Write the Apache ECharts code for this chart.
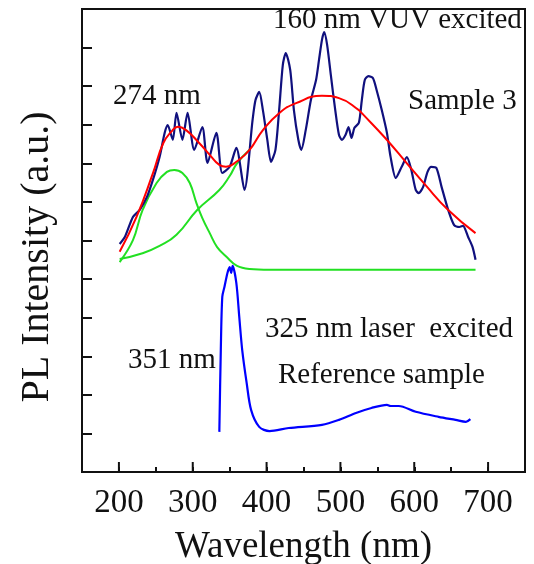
<!DOCTYPE html>
<html><head><meta charset="utf-8">
<script src="https://cdn.jsdelivr.net/npm/echarts@6/dist/echarts.min.js"></script>
<style>html,body{margin:0;padding:0;background:#fff}#c{width:534px;height:564px}</style>
</head><body><div id="c"></div>
<script>
// ---- data (wavelength nm, intensity a.u.) ----
const xTickLabels = [200, 300, 400, 500, 600, 700];
const vuvWl = [201,208,219,228,238,246,255,262,266,273,278,286,293,302,313,320,332,340,350,359,370,381,385,390,395,401,406,412,417,422,426,432,437,443,447,453,460,467,471,475,478,482,487,493,498,502,507,511,515,519,525,529,533,538,544,549,556,563,568,575,583,590,596,602,606,612,618,623,630,637,646,654,661,666,673,679,683];
const vuvI  = [5.91,6.09,6.61,6.79,7.13,7.57,8.16,8.79,8.99,8.61,9.31,8.61,9.31,8.35,8.94,8.01,8.79,7.75,7.91,8.40,7.31,9.12,9.64,9.85,9.38,8.61,8.04,8.35,9.38,10.55,10.86,10.42,9.38,8.61,8.35,8.86,9.64,10.16,10.68,11.20,11.40,11.07,10.29,9.38,8.74,8.61,8.74,8.94,8.66,8.92,9.05,9.64,10.16,10.26,10.21,9.90,9.38,8.79,8.16,7.62,7.91,8.16,7.83,7.31,7.23,7.39,7.78,7.91,7.88,7.39,6.79,6.40,6.35,6.38,6.09,5.83,5.50];
const fitWl = [201,224,246,260,271,280,291,309,323,336,345,359,377,395,417,440,475,498,525,529,561,590,615,646,683];
const fitI  = [5.71,6.62,7.74,8.52,8.82,8.95,8.86,8.52,8.22,7.96,7.91,8.04,8.35,8.86,9.30,9.56,9.75,9.69,9.38,9.30,8.65,8.00,7.44,6.79,6.19];
const g1Wl = [201,219,232,251,265,275,286,296,305,313,323,333,346,360,377,404,683];
const g1I  = [5.44,6.01,6.79,7.49,7.78,7.83,7.75,7.49,6.97,6.58,6.19,5.83,5.57,5.34,5.26,5.24,5.24];
const g2Wl = [201,232,255,278,306,336,350,360,377];
const g2I  = [5.52,5.67,5.86,6.15,6.79,7.31,7.67,8.00,8.35];
const refWl = [336,338,340,343,347,350,352,354,359,363,367,373,379,390,404,430,475,498,521,542,563,568,579,602,633,656,670,676];
const refI  = [1.04,3.16,4.54,4.80,5.16,5.31,5.16,5.34,4.90,4.02,3.16,2.31,1.61,1.17,1.06,1.14,1.22,1.35,1.53,1.66,1.74,1.71,1.71,1.56,1.43,1.35,1.30,1.37];

const pairs = (a, b) => a.map((x, i) => [x, b[i]]);
const serif = '"Liberation Serif","Times New Roman",serif';
const chart = echarts.init(document.getElementById('c'), null, {renderer: 'canvas'});
const line = (name, d, color, w, smooth, z) => ({
  name, type: 'line', data: d, showSymbol: false, smooth, z,
  lineStyle: {color, width: w}, itemStyle: {color}, silent: true, animation: false
});
chart.setOption({
  animation: false,
  grid: {left: 82, right: 9, top: 9, bottom: 92, containLabel: false, outerBoundsMode: 'none',
    show: true, borderColor: '#111', borderWidth: 2, backgroundColor: 'transparent'},
  xAxis: {
    type: 'value', min: 150, max: 750, interval: 50,
    name: 'Wavelength (nm)', nameLocation: 'middle', nameGap: 57,
    nameTextStyle: {fontFamily: serif, fontSize: 37, color: '#111'},
    axisLine: {show: true, onZero: false, lineStyle: {color: '#111', width: 2}},
    axisTick: {show: true, inside: true, length: 5, lineStyle: {color: '#111', width: 2}},
    axisLabel: {fontFamily: serif, fontSize: 33, color: '#111', margin: 15,
      formatter: v => xTickLabels.includes(v) ? String(v) : ''},
    splitLine: {show: false}
  },
  yAxis: {
    type: 'value', min: 0, max: 12, interval: 1,
    axisLine: {show: true, lineStyle: {color: '#111', width: 2}},
    axisTick: {show: true, inside: true, length: 10, lineStyle: {color: '#111', width: 2}},
    axisLabel: {show: false},
    splitLine: {show: false}
  },
  series: [
    {
      type: 'custom', data: xTickLabels.map(v => [v]), silent: true, z: 5,
      renderItem: (params, api) => {
        const p = api.coord([api.value(0), 0]);
        return {type: 'line', shape: {x1: p[0], y1: p[1], x2: p[0], y2: p[1] - 10},
          style: {stroke: '#111', lineWidth: 2}};
      }
    },
    line('g1', pairs(g1Wl, g1I), '#22e022', 2, 0.4, 2),
    line('g2', pairs(g2Wl, g2I), '#22e022', 2, 0.5, 2),
    line('vuv', pairs(vuvWl, vuvI), '#10107e', 2.2, 0.25, 3),
    line('fit', pairs(fitWl, fitI), '#ff0000', 2, 0.5, 4),
    line('ref', pairs(refWl, refI), '#0000ff', 2.2, 0.3, 3)
  ],
  graphic: [
    {type: 'text', x: 37, y: 257, rotation: Math.PI / 2,
      style: {text: 'PL Intensity (a.u.)', font: '40px ' + serif, fill: '#111', align: 'center', verticalAlign: 'middle'}},
    {type: 'text', left: 113, top: 82, style: {text: '274 nm', font: '29px ' + serif, fill: '#111'}},
    {type: 'text', left: 273, top: 6, style: {text: '160 nm VUV excited', font: '29px ' + serif, fill: '#111'}},
    {type: 'text', left: 408, top: 87, style: {text: 'Sample 3', font: '29px ' + serif, fill: '#111'}},
    {type: 'text', left: 265, top: 315, style: {text: '325 nm laser  excited', font: '29px ' + serif, fill: '#111'}},
    {type: 'text', left: 278, top: 361, style: {text: 'Reference sample', font: '29px ' + serif, fill: '#111'}},
    {type: 'text', left: 128, top: 346, style: {text: '351 nm', font: '29px ' + serif, fill: '#111'}}
  ]
});
</script></body></html>
